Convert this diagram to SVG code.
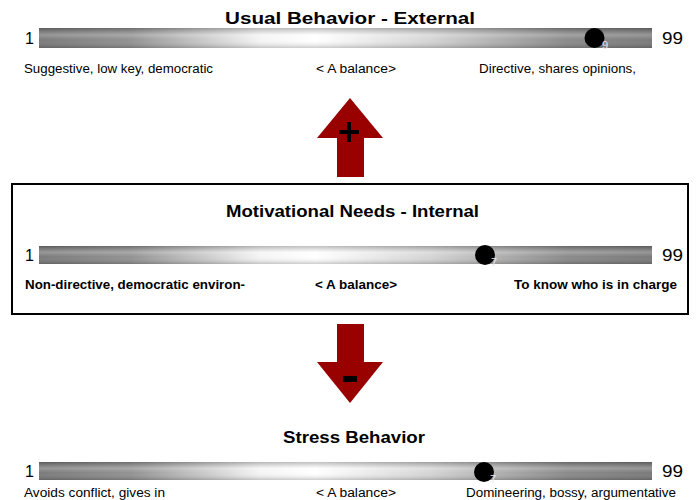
<svg xmlns="http://www.w3.org/2000/svg" width="696" height="500" viewBox="0 0 696 500">
<defs>
<linearGradient id="hg" x1="0" y1="0" x2="1" y2="0">
<stop offset="0" stop-color="#7a7a7a"/>
<stop offset="0.15" stop-color="#929292"/>
<stop offset="0.36" stop-color="#f4f4f4"/>
<stop offset="0.45" stop-color="#ffffff"/>
<stop offset="0.64" stop-color="#d4d4d4"/>
<stop offset="0.86" stop-color="#8a8a8a"/>
<stop offset="1" stop-color="#7a7a7a"/>
</linearGradient>
<linearGradient id="vg" x1="0" y1="0" x2="0" y2="1">
<stop offset="0" stop-color="#000" stop-opacity="0.25"/>
<stop offset="0.35" stop-color="#fff" stop-opacity="0.22"/>
<stop offset="0.6" stop-color="#fff" stop-opacity="0"/>
<stop offset="1" stop-color="#000" stop-opacity="0.2"/>
</linearGradient>
</defs>
<style>
text{font-family:"Liberation Sans",Arial,sans-serif;fill:#000}
.t{font-size:16px;font-weight:bold}
.n{font-size:16px}
.l{font-size:12px}
.lb{font-size:12px;font-weight:bold}
.d{font-size:11px;fill:#e6e6e6}
.arrow{fill:#990000}
</style>
<g id="usual">
<text class="t" x="225" y="24" textLength="250" lengthAdjust="spacingAndGlyphs">Usual Behavior - External</text>
<rect x="39" y="28" width="613" height="20" fill="url(#hg)"/>
<rect x="39" y="28" width="613" height="20" fill="url(#vg)"/>
<circle cx="594.500" cy="38" r="10" fill="#000"/>
<text class="d" x="602" y="49">9</text>
<text class="n" x="25" y="44">1</text>
<text class="n" x="662" y="44" textLength="21" lengthAdjust="spacingAndGlyphs">99</text>
<text class="l" x="24" y="73" textLength="189" lengthAdjust="spacingAndGlyphs">Suggestive, low key, democratic</text>
<text class="l" x="316" y="73" textLength="80" lengthAdjust="spacingAndGlyphs">&lt; A balance&gt;</text>
<text class="l" x="479" y="73" textLength="157" lengthAdjust="spacingAndGlyphs">Directive, shares opinions,</text>
</g>
<g id="arrow-up">
<polygon class="arrow" points="350,98 383,138 364,138 364,177 337,177 337,138 317,138"/>
<rect x="339" y="130" width="20" height="4" fill="#000"/>
<rect x="347" y="122" width="4" height="20" fill="#000"/>
</g>
<g id="motivational">
<rect x="12" y="184" width="676" height="130" fill="#fff" stroke="#000" stroke-width="2"/>
<text class="t" x="226" y="217" textLength="253" lengthAdjust="spacingAndGlyphs">Motivational Needs - Internal</text>
<rect x="39" y="246" width="613" height="18" fill="url(#hg)"/>
<rect x="39" y="246" width="613" height="18" fill="url(#vg)"/>
<circle cx="485" cy="255" r="10" fill="#000"/>
<text class="d" x="491" y="266">7</text>
<text class="n" x="25" y="261">1</text>
<text class="n" x="662" y="261" textLength="21" lengthAdjust="spacingAndGlyphs">99</text>
<text class="lb" x="25" y="289" textLength="220" lengthAdjust="spacingAndGlyphs">Non-directive, democratic environ-</text>
<text class="lb" x="315" y="289" textLength="82" lengthAdjust="spacingAndGlyphs">&lt; A balance&gt;</text>
<text class="lb" x="514" y="289" textLength="163" lengthAdjust="spacingAndGlyphs">To know who is in charge</text>
</g>
<g id="arrow-down">
<polygon class="arrow" points="337,324 364,324 364,362 383,362 350,403 317,362 337,362"/>
<rect x="343" y="376" width="14" height="6" fill="#000"/>
</g>
<g id="stress">
<text class="t" x="283" y="443" textLength="142" lengthAdjust="spacingAndGlyphs">Stress Behavior</text>
<rect x="39" y="462" width="613" height="18" fill="url(#hg)"/>
<rect x="39" y="462" width="613" height="18" fill="url(#vg)"/>
<circle cx="484" cy="472" r="10" fill="#000"/>
<text class="d" x="490" y="483">7</text>
<text class="n" x="25" y="477">1</text>
<text class="n" x="662" y="477" textLength="21" lengthAdjust="spacingAndGlyphs">99</text>
<text class="l" x="24" y="497" textLength="141" lengthAdjust="spacingAndGlyphs">Avoids conflict, gives in</text>
<text class="l" x="316" y="497" textLength="80" lengthAdjust="spacingAndGlyphs">&lt; A balance&gt;</text>
<text class="l" x="466" y="497" textLength="210" lengthAdjust="spacingAndGlyphs">Domineering, bossy, argumentative</text>
</g>
<g id="connectors"></g>
</svg>
